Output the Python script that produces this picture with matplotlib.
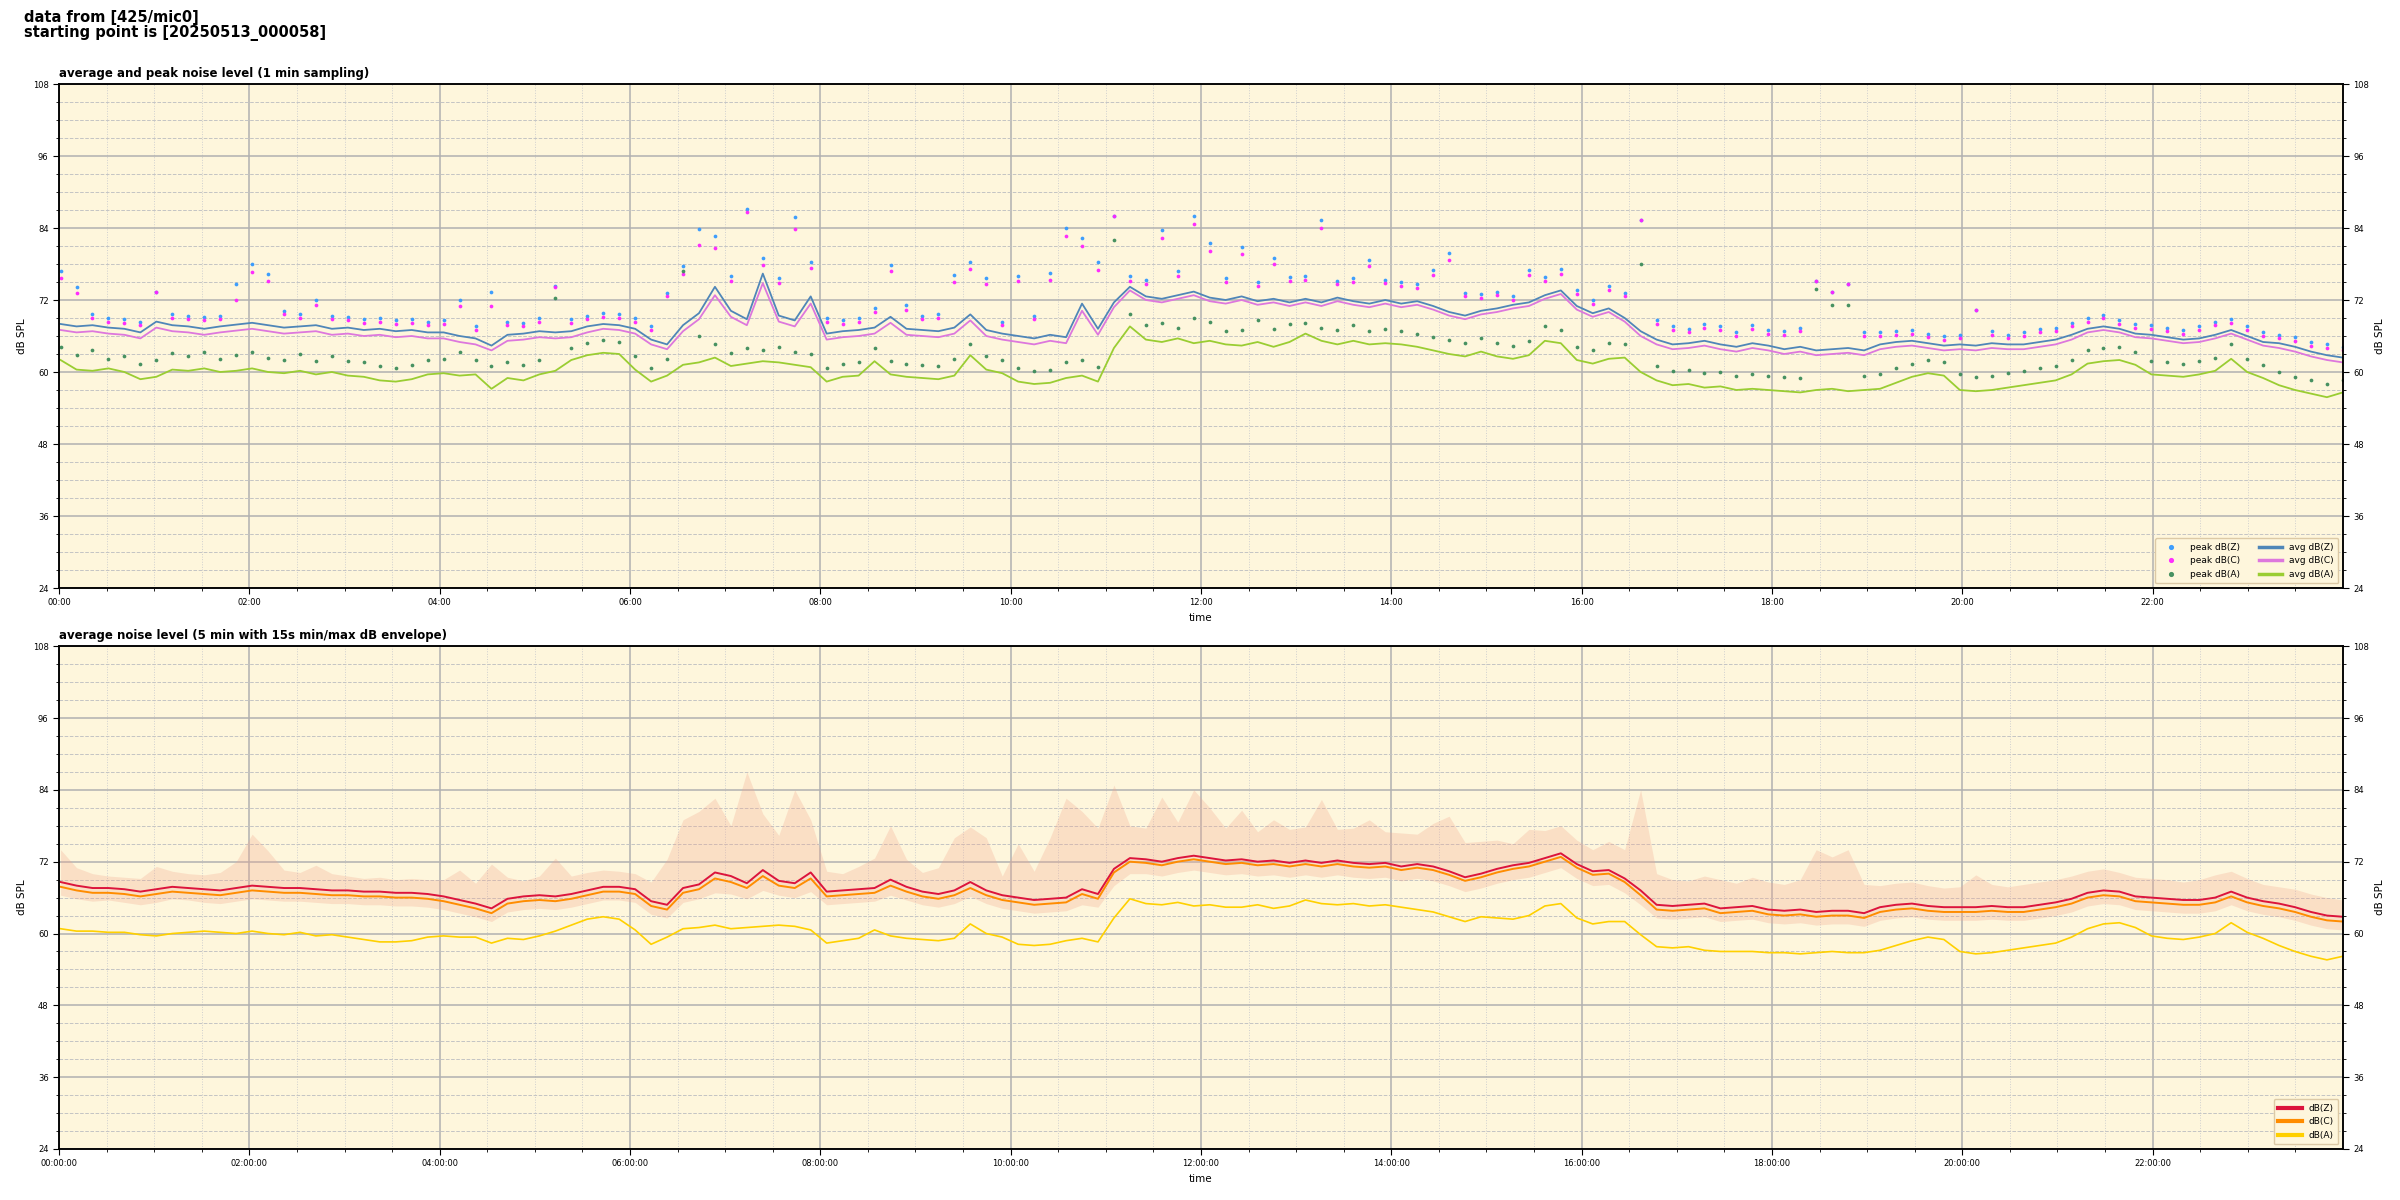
import numpy as np
import pandas as pd
import matplotlib
matplotlib.use("Agg")
import matplotlib.pyplot as plt
import matplotlib.dates as mdates
from matplotlib.ticker import MultipleLocator

# ---------------- data (10-minute bins) ----------------
avg_z = [68.0, 67.6, 67.8, 67.4, 67.2, 66.6, 68.4, 67.8, 67.6, 67.2, 67.6, 67.9,
         68.2, 67.8, 67.4, 67.6, 67.8, 67.2, 67.4, 67.0, 67.2, 66.8, 67.0, 66.6,
         66.6, 66.0, 65.6, 64.4, 66.2, 66.4, 66.8, 66.6, 66.8, 67.6, 68.0, 67.8,
         67.2, 65.4, 64.6, 67.8, 69.8, 74.2, 70.2, 68.8, 76.4, 69.4, 68.6, 72.6,
         66.4, 66.8, 67.0, 67.4, 69.2, 67.2, 67.0, 66.8, 67.4, 69.6, 67.0, 66.4,
         66.0, 65.6, 66.2, 65.8, 71.4, 67.2, 71.6, 74.2, 72.6, 72.2, 72.8, 73.4,
         72.4, 72.0, 72.6, 71.8, 72.2, 71.6, 72.2, 71.6, 72.4, 71.8, 71.4, 72.0,
         71.4, 71.8, 71.0, 70.0, 69.4, 70.2, 70.6, 71.2, 71.6, 72.8, 73.6, 71.0,
         69.8, 70.6, 69.0, 66.8, 65.4, 64.6, 64.8, 65.2, 64.6, 64.2, 64.8, 64.4,
         63.8, 64.2, 63.6, 63.8, 64.0, 63.6, 64.6, 65.0, 65.2, 64.8, 64.4, 64.6,
         64.4, 64.8, 64.6, 64.6, 65.0, 65.4, 66.2, 67.2, 67.6, 67.2, 66.4, 66.2,
         65.8, 65.4, 65.6, 66.2, 67.0, 66.0, 65.0, 64.8, 64.2, 63.4, 62.8, 62.4]

avg_c = [67.0, 66.6, 66.8, 66.4, 66.2, 65.6, 67.4, 66.8, 66.6, 66.2, 66.6, 66.9,
         67.2, 66.8, 66.4, 66.6, 66.8, 66.2, 66.4, 66.0, 66.2, 65.8, 66.0, 65.6,
         65.6, 65.0, 64.6, 63.6, 65.2, 65.4, 65.8, 65.6, 65.8, 66.6, 67.2, 67.0,
         66.4, 64.6, 63.8, 66.8, 68.8, 72.8, 69.2, 67.8, 74.8, 68.4, 67.6, 71.4,
         65.4, 65.8, 66.0, 66.4, 68.2, 66.2, 66.0, 65.8, 66.4, 68.6, 66.0, 65.4,
         65.0, 64.6, 65.2, 64.8, 70.2, 66.2, 70.8, 73.6, 72.0, 71.6, 72.2, 72.8,
         71.8, 71.4, 72.0, 71.2, 71.6, 71.0, 71.6, 71.0, 71.8, 71.2, 70.8, 71.4,
         70.8, 71.2, 70.4, 69.4, 68.8, 69.6, 70.0, 70.6, 71.0, 72.2, 73.0, 70.4,
         69.2, 70.0, 68.4, 66.0, 64.6, 63.8, 64.0, 64.4, 63.8, 63.4, 64.0, 63.6,
         63.0, 63.4, 62.8, 63.0, 63.2, 62.8, 63.8, 64.2, 64.4, 64.0, 63.6, 63.8,
         63.6, 64.0, 63.8, 63.8, 64.2, 64.6, 65.4, 66.6, 67.0, 66.6, 65.8, 65.6,
         65.2, 64.8, 65.0, 65.6, 66.4, 65.4, 64.4, 64.0, 63.4, 62.6, 62.0, 61.6]

avg_a = [62.0, 60.4, 60.2, 60.6, 60.0, 58.8, 59.2, 60.4, 60.2, 60.6, 60.0, 60.2,
         60.6, 60.0, 59.8, 60.2, 59.6, 60.0, 59.4, 59.2, 58.6, 58.4, 58.8, 59.6,
         59.8, 59.4, 59.6, 57.2, 59.0, 58.6, 59.6, 60.2, 62.0, 62.8, 63.2, 63.0,
         60.4, 58.4, 59.4, 61.2, 61.6, 62.4, 61.0, 61.4, 61.8, 61.6, 61.2, 60.8,
         58.4, 59.2, 59.4, 61.8, 59.6, 59.2, 59.0, 58.8, 59.4, 62.8, 60.4, 59.8,
         58.4, 58.0, 58.2, 59.0, 59.4, 58.4, 64.0, 67.6, 65.4, 65.0, 65.6, 64.8,
         65.2, 64.6, 64.4, 65.0, 64.2, 65.0, 66.4, 65.2, 64.6, 65.2, 64.6, 64.8,
         64.6, 64.2, 63.6, 63.0, 62.6, 63.4, 62.6, 62.2, 62.8, 65.2, 64.8, 62.0,
         61.4, 62.2, 62.4, 60.0, 58.6, 57.8, 58.0, 57.4, 57.6, 57.0, 57.2, 57.0,
         56.8, 56.6, 57.0, 57.2, 56.8, 57.0, 57.2, 58.2, 59.2, 59.8, 59.4, 57.0,
         56.8, 57.0, 57.4, 57.8, 58.2, 58.6, 59.6, 61.4, 61.8, 62.0, 61.2, 59.6,
         59.4, 59.2, 59.6, 60.2, 62.2, 60.0, 59.0, 57.8, 57.0, 56.4, 55.8, 56.6]

peak_z = [76.8, 74.2, 69.6, 69.0, 68.8, 68.4, 73.4, 69.6, 69.4, 69.2, 69.4, 74.6,
          78.0, 76.4, 70.2, 69.6, 72.0, 69.4, 69.2, 68.8, 69.0, 68.6, 68.8, 68.4,
          68.6, 72.0, 67.6, 73.4, 68.4, 68.2, 69.0, 74.4, 68.8, 69.4, 69.8, 69.6,
          69.0, 67.6, 73.2, 77.6, 83.8, 82.6, 76.0, 87.2, 79.0, 75.6, 85.8, 78.4,
          69.0, 68.6, 69.0, 70.6, 77.9, 71.2, 69.4, 69.6, 76.2, 78.4, 75.7, 68.4,
          76.0, 69.4, 76.5, 84.0, 82.3, 78.4, 86.0, 76.0, 75.4, 83.7, 76.8, 86.0,
          81.5, 75.6, 80.9, 75.0, 79.0, 75.8, 76.0, 85.4, 75.2, 75.6, 78.7, 75.4,
          75.0, 74.6, 77.0, 79.8, 73.2, 73.0, 73.4, 72.6, 77.0, 75.8, 77.2, 73.6,
          72.0, 74.3, 73.2, 85.4, 68.6, 67.6, 67.2, 68.0, 67.6, 66.6, 67.8, 67.0,
          66.8, 67.4, 75.1, 73.3, 74.6, 66.6, 66.6, 66.8, 67.0, 66.4, 66.0, 66.2,
          70.3, 66.8, 66.2, 66.6, 67.2, 67.4, 68.2, 69.0, 69.5, 68.6, 68.0, 67.8,
          67.4, 67.0, 67.6, 68.4, 68.8, 67.6, 66.6, 66.2, 65.8, 65.0, 64.6, 64.2]

peak_c = [75.6, 73.2, 69.0, 68.4, 68.2, 67.8, 73.4, 69.0, 68.8, 68.6, 68.8, 72.0,
          76.6, 75.2, 69.6, 69.0, 71.2, 68.8, 68.6, 68.2, 68.4, 68.0, 68.2, 67.8,
          68.0, 71.0, 67.0, 71.0, 67.8, 67.6, 68.4, 74.2, 68.2, 68.8, 69.2, 69.0,
          68.4, 67.0, 72.6, 76.4, 81.2, 80.6, 75.2, 86.6, 77.8, 74.8, 83.8, 77.4,
          68.4, 68.0, 68.4, 70.0, 76.8, 70.4, 68.8, 69.0, 75.0, 77.2, 74.6, 67.8,
          75.2, 68.8, 75.4, 82.6, 81.0, 77.0, 86.0, 75.2, 74.6, 82.4, 76.0, 84.6,
          80.2, 75.0, 79.6, 74.4, 78.0, 75.2, 75.4, 84.0, 74.6, 75.0, 77.6, 74.8,
          74.4, 74.0, 76.2, 78.6, 72.6, 72.4, 72.8, 72.0, 76.2, 75.2, 76.4, 73.0,
          71.4, 73.6, 72.6, 85.4, 68.0, 67.0, 66.6, 67.4, 67.0, 66.0, 67.2, 66.4,
          66.2, 66.8, 75.1, 73.3, 74.6, 66.0, 66.0, 66.2, 66.4, 65.8, 65.4, 65.6,
          70.3, 66.2, 65.6, 66.0, 66.6, 66.8, 67.6, 68.4, 69.0, 68.0, 67.4, 67.2,
          66.8, 66.4, 67.0, 67.8, 68.2, 67.0, 66.0, 65.6, 65.2, 64.4, 64.0, 63.6]

peak_a = [64.2, 62.8, 63.6, 62.2, 62.6, 61.4, 62.0, 63.2, 62.6, 63.4, 62.2, 62.8,
          63.4, 62.4, 62.0, 63.0, 61.8, 62.6, 61.8, 61.6, 61.0, 60.6, 61.2, 62.0,
          62.2, 63.4, 62.0, 61.0, 61.6, 61.2, 62.0, 72.3, 64.0, 64.8, 65.4, 65.0,
          62.6, 60.6, 62.2, 76.9, 66.0, 64.6, 63.2, 64.0, 63.6, 64.2, 63.4, 63.0,
          60.6, 61.4, 61.6, 64.0, 61.8, 61.4, 61.2, 61.0, 62.2, 64.6, 62.6, 62.0,
          60.6, 60.2, 60.4, 61.6, 62.0, 60.8, 82.0, 69.6, 67.8, 68.2, 67.4, 69.0,
          68.4, 66.8, 67.0, 68.6, 67.2, 68.0, 68.2, 67.4, 67.0, 67.8, 66.8, 67.2,
          66.8, 66.4, 65.8, 65.4, 64.8, 65.6, 64.8, 64.4, 65.2, 67.6, 67.0, 64.2,
          63.6, 64.8, 64.6, 78.0, 61.0, 60.2, 60.4, 59.8, 60.0, 59.4, 59.6, 59.4,
          59.2, 59.0, 73.9, 71.2, 71.2, 59.4, 59.6, 60.6, 61.4, 62.0, 61.6, 59.6,
          59.2, 59.4, 59.8, 60.2, 60.6, 61.0, 62.0, 63.6, 64.0, 64.2, 63.4, 61.8,
          61.6, 61.4, 61.8, 62.4, 64.6, 62.2, 61.2, 60.0, 59.2, 58.6, 58.0, 58.6]

# bottom panel: 5-min averages and 15 s min/max envelope
bot_z = [68.6, 68.0, 67.6, 67.6, 67.4, 67.0, 67.4, 67.8, 67.6, 67.4, 67.2, 67.6,
         68.0, 67.8, 67.6, 67.6, 67.4, 67.2, 67.2, 67.0, 67.0, 66.8, 66.8, 66.6,
         66.2, 65.6, 65.0, 64.2, 65.8, 66.2, 66.4, 66.2, 66.6, 67.2, 67.8, 67.8,
         67.4, 65.4, 64.8, 67.6, 68.2, 70.2, 69.6, 68.4, 70.6, 68.8, 68.4, 70.2,
         67.0, 67.2, 67.4, 67.6, 69.0, 67.8, 67.0, 66.6, 67.2, 68.6, 67.2, 66.4,
         66.0, 65.6, 65.8, 66.0, 67.4, 66.6, 70.8, 72.6, 72.4, 72.0, 72.6, 73.0,
         72.6, 72.2, 72.4, 72.0, 72.2, 71.8, 72.2, 71.8, 72.2, 71.8, 71.6, 71.8,
         71.2, 71.6, 71.2, 70.4, 69.4, 70.0, 70.8, 71.4, 71.8, 72.6, 73.4, 71.6,
         70.4, 70.6, 69.2, 67.2, 64.8, 64.6, 64.8, 65.0, 64.2, 64.4, 64.6, 64.0,
         63.8, 64.0, 63.6, 63.8, 63.8, 63.4, 64.4, 64.8, 65.0, 64.6, 64.4, 64.4,
         64.4, 64.6, 64.4, 64.4, 64.8, 65.2, 65.8, 66.8, 67.2, 67.0, 66.2, 66.0,
         65.8, 65.6, 65.6, 66.0, 67.0, 66.0, 65.4, 65.0, 64.4, 63.6, 63.0, 62.8]

bot_c = [67.8, 67.2, 66.8, 66.8, 66.6, 66.2, 66.6, 67.0, 66.8, 66.6, 66.4, 66.8,
         67.2, 67.0, 66.8, 66.8, 66.6, 66.4, 66.4, 66.2, 66.2, 66.0, 66.0, 65.8,
         65.4, 64.8, 64.2, 63.4, 65.0, 65.4, 65.6, 65.4, 65.8, 66.4, 67.0, 67.0,
         66.6, 64.6, 64.0, 66.8, 67.4, 69.2, 68.6, 67.6, 69.6, 68.0, 67.6, 69.2,
         66.2, 66.4, 66.6, 66.8, 68.0, 67.0, 66.2, 65.8, 66.4, 67.6, 66.4, 65.6,
         65.2, 64.8, 65.0, 65.2, 66.6, 65.8, 70.2, 72.0, 71.8, 71.4, 72.0, 72.4,
         72.0, 71.6, 71.8, 71.4, 71.6, 71.2, 71.6, 71.2, 71.6, 71.2, 71.0, 71.2,
         70.6, 71.0, 70.6, 69.8, 68.8, 69.4, 70.2, 70.8, 71.2, 72.0, 72.8, 71.0,
         69.8, 70.0, 68.6, 66.4, 64.0, 63.8, 64.0, 64.2, 63.4, 63.6, 63.8, 63.2,
         63.0, 63.2, 62.8, 63.0, 63.0, 62.6, 63.6, 64.0, 64.2, 63.8, 63.6, 63.6,
         63.6, 63.8, 63.6, 63.6, 64.0, 64.4, 65.0, 66.0, 66.4, 66.2, 65.4, 65.2,
         65.0, 64.8, 64.8, 65.2, 66.2, 65.2, 64.6, 64.2, 63.6, 62.8, 62.2, 62.0]

bot_a = [60.8, 60.4, 60.4, 60.2, 60.2, 59.8, 59.6, 60.0, 60.2, 60.4, 60.2, 60.0,
         60.4, 60.0, 59.8, 60.2, 59.6, 59.8, 59.4, 59.0, 58.6, 58.6, 58.8, 59.4,
         59.6, 59.4, 59.4, 58.4, 59.2, 59.0, 59.6, 60.4, 61.4, 62.4, 62.8, 62.4,
         60.6, 58.2, 59.4, 60.8, 61.0, 61.4, 60.8, 61.0, 61.2, 61.4, 61.2, 60.6,
         58.4, 58.8, 59.2, 60.6, 59.6, 59.2, 59.0, 58.8, 59.2, 61.6, 60.0, 59.4,
         58.2, 58.0, 58.2, 58.8, 59.2, 58.6, 62.6, 65.8, 65.0, 64.8, 65.2, 64.6,
         64.8, 64.4, 64.4, 64.8, 64.2, 64.6, 65.6, 65.0, 64.8, 65.0, 64.6, 64.8,
         64.4, 64.0, 63.6, 62.8, 62.0, 62.8, 62.6, 62.4, 63.0, 64.6, 65.0, 62.6,
         61.6, 62.0, 62.0, 59.8, 57.8, 57.6, 57.8, 57.2, 57.0, 57.0, 57.0, 56.8,
         56.8, 56.6, 56.8, 57.0, 56.8, 56.8, 57.2, 58.0, 58.8, 59.4, 59.0, 57.0,
         56.6, 56.8, 57.2, 57.6, 58.0, 58.4, 59.4, 60.8, 61.6, 61.8, 61.0, 59.6,
         59.2, 59.0, 59.4, 60.0, 61.8, 60.2, 59.2, 58.0, 57.0, 56.2, 55.6, 56.2]

env_max = [74.0, 71.0, 70.0, 69.6, 69.4, 69.2, 71.2, 70.4, 70.0, 69.8, 70.2, 72.0,
           76.6, 73.8, 70.6, 70.2, 71.4, 70.0, 69.6, 69.2, 69.4, 69.0, 69.2, 69.0,
           69.0, 70.6, 68.4, 71.6, 69.4, 68.8, 69.6, 72.6, 69.6, 70.2, 70.6, 70.4,
           70.0, 68.6, 72.4, 79.0, 80.4, 82.6, 78.0, 87.0, 80.0, 76.4, 84.0, 79.0,
           70.4, 70.0, 71.2, 72.6, 78.0, 72.4, 70.2, 71.0, 76.0, 77.8, 76.0, 69.6,
           75.0, 70.4, 76.0, 82.6, 80.4, 77.6, 84.8, 78.0, 77.6, 82.8, 78.6, 84.0,
           81.0, 77.6, 80.6, 77.0, 79.0, 77.4, 77.8, 82.4, 77.4, 77.6, 79.0, 77.0,
           76.8, 76.6, 78.4, 79.6, 75.2, 75.4, 75.6, 75.0, 77.4, 77.2, 78.0, 75.6,
           74.0, 75.4, 74.0, 84.0, 70.0, 69.0, 68.8, 69.6, 69.0, 68.4, 69.4, 68.6,
           68.2, 69.0, 74.0, 72.8, 74.0, 68.2, 68.0, 68.4, 68.6, 68.0, 67.6, 67.8,
           69.8, 68.2, 67.8, 68.2, 68.6, 69.0, 69.6, 70.4, 70.8, 70.2, 69.4, 69.2,
           69.0, 68.6, 69.0, 69.8, 70.4, 69.2, 68.2, 67.8, 67.4, 66.6, 66.0, 65.6]

env_min = [66.4, 65.8, 65.4, 65.6, 65.2, 64.8, 65.2, 65.8, 65.6, 65.2, 65.0, 65.4,
           65.8, 65.6, 65.4, 65.4, 65.2, 65.0, 65.0, 64.8, 64.8, 64.6, 64.6, 64.4,
           64.0, 63.4, 62.8, 62.0, 63.6, 64.0, 64.2, 64.0, 64.4, 65.0, 65.6, 65.6,
           65.2, 63.2, 62.6, 65.2, 65.8, 66.8, 66.6, 65.8, 67.2, 66.4, 66.0, 67.0,
           64.8, 65.0, 65.2, 65.4, 66.4, 65.6, 64.8, 64.4, 65.0, 66.2, 65.0, 64.2,
           63.8, 63.4, 63.6, 63.8, 64.8, 64.4, 68.0, 70.0, 70.0, 69.6, 70.2, 70.6,
           70.2, 69.8, 70.0, 69.6, 69.8, 69.4, 69.8, 69.4, 69.8, 69.4, 69.2, 69.4,
           68.8, 69.2, 68.8, 68.0, 67.0, 67.6, 68.4, 69.0, 69.4, 70.2, 71.0, 69.2,
           68.0, 68.2, 66.8, 64.8, 62.6, 62.4, 62.6, 62.8, 62.0, 62.2, 62.4, 61.8,
           61.6, 61.8, 61.4, 61.6, 61.6, 61.2, 62.2, 62.6, 62.8, 62.4, 62.2, 62.2,
           62.2, 62.4, 62.2, 62.2, 62.6, 63.0, 63.6, 64.6, 65.0, 64.8, 64.0, 63.8,
           63.6, 63.4, 63.4, 63.8, 64.8, 63.8, 63.2, 62.8, 62.2, 61.4, 60.8, 60.6]

t_start = "2025-05-13 00:00:58"
t_end = "2025-05-13 23:59:58"
times = pd.date_range(t_start, t_end, periods=len(avg_z))

y_min, y_max = 24, 108
suptitle = "data from [425/mic0]\nstarting point is [20250513_000058]"
title_top = "average and peak noise level (1 min sampling)"
title_bot = "average noise level (5 min with 15s min/max dB envelope)"

# ---------------- drawing ----------------
BG = "#fef6dc"
fig = plt.figure(figsize=(24, 12), dpi=100)
fig.text(0.0098, 0.992, suptitle, ha="left", va="top", fontsize=10.5,
         fontweight="bold", linespacing=1.0)

ax1 = fig.add_axes([0.0246, 0.51, 0.9516, 0.42])
ax2 = fig.add_axes([0.0246, 0.0425, 0.9516, 0.419])


def style(ax, fmt, title):
    ax.set_facecolor(BG)
    ax.set_ylim(y_min, y_max)
    ax.set_xlim(pd.Timestamp("2025-05-13 00:00:00"), pd.Timestamp(t_end))
    ax.yaxis.set_major_locator(MultipleLocator(12))
    ax.yaxis.set_minor_locator(MultipleLocator(3))
    ax.xaxis.set_major_locator(mdates.HourLocator(byhour=range(0, 24, 2)))
    ax.xaxis.set_minor_locator(mdates.MinuteLocator(byminute=[0, 30]))
    ax.xaxis.set_major_formatter(mdates.DateFormatter(fmt))
    ax.grid(which="major", color="#b0b0b0", lw=1.1, ls="-")
    ax.xaxis.grid(True, which="minor", color="#cfcfcf", lw=0.7, ls=":")
    ax.yaxis.grid(True, which="minor", color="#c4c4c4", lw=0.7, ls="--")
    ax.set_axisbelow(True)
    ax.tick_params(which="both", labelsize=6, direction="out")
    ax.tick_params(which="major", length=4)
    ax.tick_params(which="minor", length=2.5)
    for s in ax.spines.values():
        s.set_linewidth(1.1)
    ax.set_xlabel("time", fontsize=7.5)
    ax.set_ylabel("dB SPL", fontsize=7.5)
    ax.set_title(title, loc="left", fontsize=8.5, fontweight="bold", pad=5)
    tw = ax.twinx()
    tw.set_ylim(y_min, y_max)
    tw.yaxis.set_major_locator(MultipleLocator(12))
    tw.yaxis.set_minor_locator(MultipleLocator(3))
    tw.tick_params(which="both", labelsize=6, direction="out")
    tw.tick_params(which="major", length=4)
    tw.tick_params(which="minor", length=2.5)
    tw.set_ylabel("dB SPL", fontsize=7.5)
    for s in tw.spines.values():
        s.set_linewidth(1.1)
    return tw


style(ax1, "%H:%M", title_top)
pz, = ax1.plot(times, peak_z, ls="none", marker=".", ms=3.4, color="#3399ff",
               alpha=0.9, label="peak dB(Z)")
pc, = ax1.plot(times, peak_c, ls="none", marker=".", ms=3.4, color="#ff22ff",
               alpha=0.9, label="peak dB(C)")
pa, = ax1.plot(times, peak_a, ls="none", marker=".", ms=3.4, color="#3d8c5a",
               alpha=0.9, label="peak dB(A)")
lc, = ax1.plot(times, avg_c, color="#dd77dd", lw=1.3, label="avg dB(C)")
lz, = ax1.plot(times, avg_z, color="#4f86b8", lw=1.3, label="avg dB(Z)")
la, = ax1.plot(times, avg_a, color="#9acd32", lw=1.3, label="avg dB(A)")
leg1 = ax1.legend(handles=[pz, pc, pa, lz, lc, la], loc="lower right", ncol=2,
                  fontsize=6.5, facecolor=BG, edgecolor="#dcc9a5",
                  framealpha=1.0, markerscale=1.6, handlelength=2.6,
                  columnspacing=2.0, borderpad=0.5)
for h in leg1.get_lines():
    if h.get_linestyle() != "None":
        h.set_linewidth(2.5)

style(ax2, "%H:%M:%S", title_bot)
ax2.fill_between(times, env_min, env_max, color="#f2a48c", alpha=0.28, lw=0)
l2c, = ax2.plot(times, bot_c, color="#ff8c00", lw=1.4, label="dB(C)")
l2z, = ax2.plot(times, bot_z, color="#dc143c", lw=1.4, label="dB(Z)")
l2a, = ax2.plot(times, bot_a, color="#ffd000", lw=1.2, label="dB(A)")
leg2 = ax2.legend(handles=[l2z, l2c, l2a], loc="lower right", fontsize=6.5,
                  facecolor=BG, edgecolor="#dcc9a5", framealpha=1.0,
                  handlelength=2.6, borderpad=0.5)
for h in leg2.get_lines():
    h.set_linewidth(3)

fig.savefig("out.png", dpi=100)
